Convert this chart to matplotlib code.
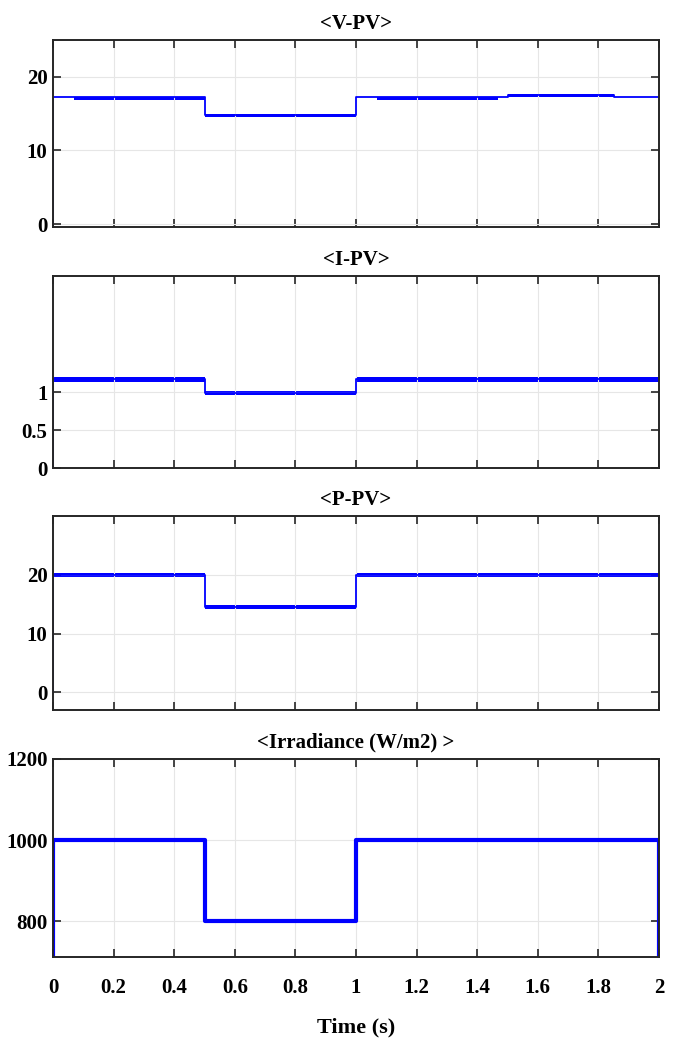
import matplotlib
matplotlib.use('Agg')
import numpy as np
import matplotlib.pyplot as plt

# datos
t_end = 2.0
titles = ['<V-PV>', '<I-PV>', '<P-PV>', '<Irradiance (W/m2) >']

# V-PV: tramos (inicio, fin, nivel)
v_edges = [0, 0.5, 1.0, 1.5, 1.85, 2.0]
v_levels = [17.3, 14.8, 17.3, 17.5, 17.3]
v_bands = [(0.07, 0.5, 16.9, 17.3), (0.5, 1.0, 14.5, 15.0),
           (1.07, 1.47, 16.9, 17.3), (1.5, 1.85, 17.3, 17.7)]

# I-PV
i_edges = [0, 0.5, 1.0, 2.0]
i_levels = [1.17, 0.99, 1.17]
i_bands = [(0.0, 0.5, 1.13, 1.20), (0.5, 1.0, 0.96, 1.01), (1.0, 2.0, 1.13, 1.20)]

# P-PV
p_edges = [0, 0.5, 1.0, 2.0]
p_levels = [20.0, 14.5, 20.0]
p_bands = [(0.0, 0.5, 19.6, 20.3), (0.5, 1.0, 14.1, 14.8), (1.0, 2.0, 19.6, 20.3)]

# Irradiancia
g_edges = [0, 0.5, 1.0, 2.0]
g_levels = [1000, 800, 1000]

ylims = [(-0.4, 25), (0, 2.53), (-3, 30), (712, 1200)]
yticks = [[0, 10, 20], [0, 0.5, 1], [0, 10, 20], [800, 1000, 1200]]
ytlabels = [['0', '10', '20'], ['0', '0.5', '1'], ['0', '10', '20'], ['800', '1000', '1200']]
xticks = [0, 0.2, 0.4, 0.6, 0.8, 1, 1.2, 1.4, 1.6, 1.8, 2]
xtlabels = ['0', '0.2', '0.4', '0.6', '0.8', '1', '1.2', '1.4', '1.6', '1.8', '2']


def step_xy(edges, levels, start0=True):
    x = []
    y = []
    if start0:
        x.append(edges[0]); y.append(0)
    for k in range(len(levels)):
        x += [edges[k], edges[k + 1]]
        y += [levels[k], levels[k]]
    return x, y


plt.rcParams['font.family'] = ['Liberation Serif', 'DejaVu Serif']
plt.rcParams['font.weight'] = 'bold'

fig = plt.figure(figsize=(6.74, 10.46), dpi=100)
L, W = 53 / 674, 606 / 674
boxes = [(40, 227), (276, 468), (516, 710), (759, 957)]
blue = '#0000ff'

series = [(v_edges, v_levels, v_bands, 1.3),
          (i_edges, i_levels, i_bands, 1.3),
          (p_edges, p_levels, p_bands, 1.3),
          (g_edges, g_levels, [], 3.0)]

for n, (top, bot) in enumerate(boxes):
    ax = fig.add_axes([L, 1 - bot / 1046, W, (bot - top) / 1046])
    edges, levels, bands, lw = series[n]
    x, y = step_xy(edges, levels)
    if n == 3:
        x.append(t_end); y.append(0)
    ax.plot(x, y, color=blue, lw=lw)
    for b in bands:
        ax.fill_between([b[0], b[1]], b[2], b[3], color=blue, lw=0)
    ax.set_xlim(0, t_end)
    ax.set_ylim(*ylims[n])
    ax.set_xticks(xticks)
    ax.set_yticks(yticks[n])
    ax.set_yticklabels(ytlabels[n], fontsize=15)
    if n == 3:
        ax.set_xticklabels(xtlabels, fontsize=15)
        ax.set_xlabel('Time (s)', fontsize=16, fontweight='bold', labelpad=14)
    else:
        ax.set_xticklabels([])
    ax.tick_params(direction='in', top=True, right=True, length=6, width=1.2,
                   color='#262626')
    ax.tick_params(axis='x', pad=15)
    ax.tick_params(axis='y', pad=4)
    ax.grid(True, color='#e6e6e6', lw=0.8)
    for s in ax.spines.values():
        s.set_color('#262626')
        s.set_linewidth(1.4)
    ax.set_title(titles[n], fontsize=15, fontweight='bold', pad=8)

fig.savefig('out.png', dpi=100)
